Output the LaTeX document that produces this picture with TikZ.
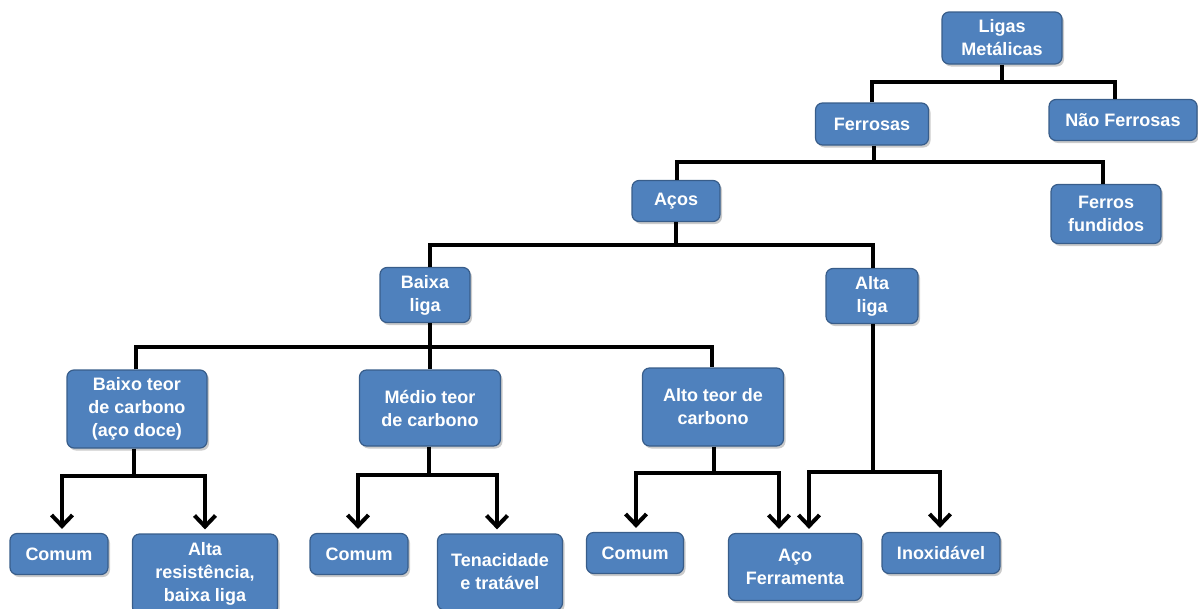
\documentclass[tikz,border=0pt]{standalone}
\usepackage{fontspec}
\setmainfont{Liberation Sans}
\usetikzlibrary{arrows.meta,shadows}
\definecolor{boxfill}{HTML}{4F81BD}
\definecolor{boxline}{HTML}{385D8A}
\begin{document}
\begin{tikzpicture}[x=1pt,y=-1pt,
  box/.style={draw=boxline,line width=1.2pt,fill=boxfill,rounded corners=7pt,
    text=white,font=\fontsize{18}{23}\selectfont\bfseries,align=center,inner sep=0pt,
    drop shadow={shadow xshift=2pt,shadow yshift=-2.5pt,fill=black!45,opacity=0.45}},
  conn/.style={line width=4.2pt,black,line join=miter},
  arr/.style={conn,-{Straight Barb[length=11pt,width=21pt,line width=4pt]},shorten >=4pt}]
\useasboundingbox (0,0) rectangle (1198,608);
% nodes
\node[box,minimum width=120pt,minimum height=52pt] (lig) at (1002,38) {Ligas\\Metálicas};
\node[box,minimum width=113pt,minimum height=42pt] (fer) at (872,124) {Ferrosas};
\node[box,minimum width=148pt,minimum height=41pt] (nfer) at (1123,120) {Não Ferrosas};
\node[box,minimum width=88pt,minimum height=41pt] (aco) at (676,201) {Aços};
\node[box,minimum width=110pt,minimum height=59pt] (ffu) at (1106,214) {Ferros\\fundidos};
\node[box,minimum width=90pt,minimum height=55pt] (bl) at (425,295) {Baixa\\liga};
\node[box,minimum width=92pt,minimum height=55pt] (al) at (872,296) {Alta\\liga};
\node[box,minimum width=140pt,minimum height=78pt] (bt) at (137,409) {Baixo teor\\de carbono\\(aço doce)};
\node[box,minimum width=141pt,minimum height=76pt] (mt) at (430,408) {Médio teor\\de carbono};
\node[box,minimum width=141pt,minimum height=78pt] (at) at (713,407) {Alto teor de\\carbono};
\node[box,minimum width=98pt,minimum height=41pt] (c1) at (59,554) {Comum};
\node[box,minimum width=145pt,minimum height=80pt] (ar) at (205,574) {Alta\\resistência,\\baixa liga};
\node[box,minimum width=98pt,minimum height=41pt] (c2) at (359,554) {Comum};
\node[box,minimum width=125pt,minimum height=76pt] (ten) at (500,572) {Tenacidade\\e tratável};
\node[box,minimum width=97pt,minimum height=41pt] (c3) at (635,553) {Comum};
\node[box,minimum width=133pt,minimum height=67pt] (af) at (795,567) {Aço\\Ferramenta};
\node[box,minimum width=118pt,minimum height=41pt] (inox) at (941,553) {Inoxidável};
% bus coordinates
\coordinate (b1) at (1002,82);
\coordinate (b2) at (874,162);
\coordinate (b3) at (676,245);
\coordinate (b4) at (430,347);
\coordinate (b5) at (134,476);
\coordinate (b6) at (429,475);
\coordinate (b7) at (714,473);
\coordinate (b8) at (873,472);
% connectors
\draw[conn] (lig.south) -- (b1);
\draw[conn] (fer.north) |- (b1) -| (nfer.north -| 1115,0);
\draw[conn] (fer.south -| b2) -- (b2);
\draw[conn] (aco.north -| 677,0) |- (b2) -| (ffu.north -| 1103,0);
\draw[conn] (aco.south) -- (b3);
\draw[conn] (bl.north -| 430,0) |- (b3) -| (al.north -| 873,0);
\draw[conn] (bl.south -| b4) -- (mt.north -| b4);
\draw[conn] (bt.north -| 136,0) |- (b4) -| (at.north -| 712,0);
\draw[conn] (bt.south -| b5) -- (b5);
\draw[arr] (b5) -| (c1.north -| 62,0);
\draw[arr] (b5) -| (ar.north -| 205,0);
\draw[conn] (mt.south -| b6) -- (b6);
\draw[arr] (b6) -| (c2.north -| 358,0);
\draw[arr] (b6) -| (ten.north -| 497,0);
\draw[conn] (at.south -| b7) -- (b7);
\draw[arr] (b7) -| (c3.north -| 636,0);
\draw[arr] (b7) -| (af.north -| 779,0);
\draw[conn] (al.south -| b8) -- (b8);
\draw[arr] (b8) -| (af.north -| 809,0);
\draw[arr] (b8) -| (inox.north -| 940,0);
\end{tikzpicture}
\end{document}
